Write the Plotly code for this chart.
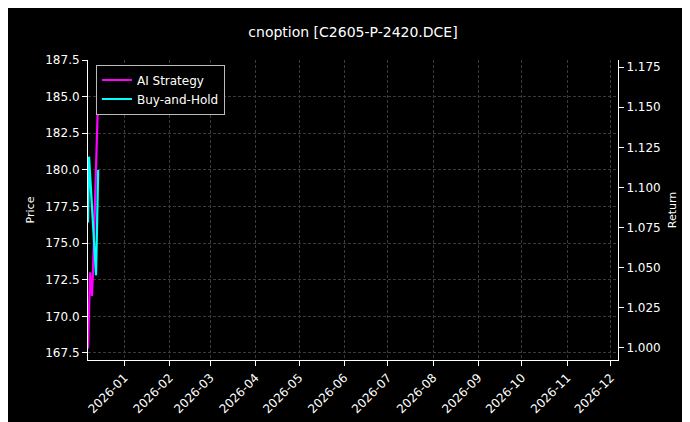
import plotly.graph_objects as go

ai_dates = ["2025-12-07 00:00", "2025-12-08 10:00", "2025-12-09 17:00",
            "2025-12-10 10:00", "2025-12-14 00:00"]
ai_price = [167.8, 173.0, 171.4, 173.0, 185.2]
bh_dates = ["2025-12-07 00:00", "2025-12-07 17:00", "2025-12-12 12:00",
            "2025-12-14 00:00"]
bh_price = [176.4, 180.9, 172.8, 180.0]

tick_dates = [f"2026-{m:02d}-01" for m in range(1, 13)]
tick_text = [f"2026-{m:02d}" for m in range(1, 13)]

fig = go.Figure()
fig.add_trace(go.Scatter(x=ai_dates, y=ai_price, name="AI Strategy",
                         mode="lines", line=dict(color="#ff00ff", width=2.2)))
fig.add_trace(go.Scatter(x=bh_dates, y=bh_price, name="Buy-and-Hold",
                         mode="lines", line=dict(color="#00ffff", width=2.2)))
# invisible trace to bring up the right axis
fig.add_trace(go.Scatter(x=[ai_dates[0]], y=[1.0], yaxis="y2", mode="lines",
                         showlegend=False, hoverinfo="skip",
                         line=dict(color="rgba(0,0,0,0)")))

axis_common = dict(showline=True, linecolor="white", linewidth=1, ticks="outside",
                   tickcolor="white", gridcolor="#3a3a3a", griddash="3px,2px",
                   gridwidth=0.6, zeroline=False, automargin=False)

fig.update_layout(
    width=690, height=422,
    paper_bgcolor="black", plot_bgcolor="black",
    font=dict(family="DejaVu Sans", color="white", size=12),
    title=dict(text="cnoption [C2605-P-2420.DCE]", x=0.5, xanchor="center",
               y=0.955, font=dict(size=14)),
    margin=dict(l=80, r=80, t=52, b=70),
    xaxis=dict(range=["2025-12-07", "2026-12-06"], tickvals=tick_dates,
               ticktext=tick_text, tickangle=-45, **axis_common),
    yaxis=dict(title=dict(text="Price", standoff=8, font=dict(size=11)),
               range=[167.02, 187.5],
               tickvals=[167.5 + 2.5 * i for i in range(9)], tickformat=".1f",
               **axis_common),
    yaxis2=dict(title=dict(text="Return", standoff=8, font=dict(size=11)),
                overlaying="y", side="right",
                range=[0.9925, 1.1794], tickvals=[1 + 0.025 * i for i in range(8)],
                tickformat=".3f", showgrid=False, showline=True, linecolor="white",
                ticks="outside", tickcolor="white", zeroline=False, automargin=False),
    legend=dict(x=0.015, y=0.985, xanchor="left", yanchor="top", bgcolor="black",
                bordercolor="#bbb", borderwidth=1, font=dict(size=12)),
)

fig.write_html("out.html")
